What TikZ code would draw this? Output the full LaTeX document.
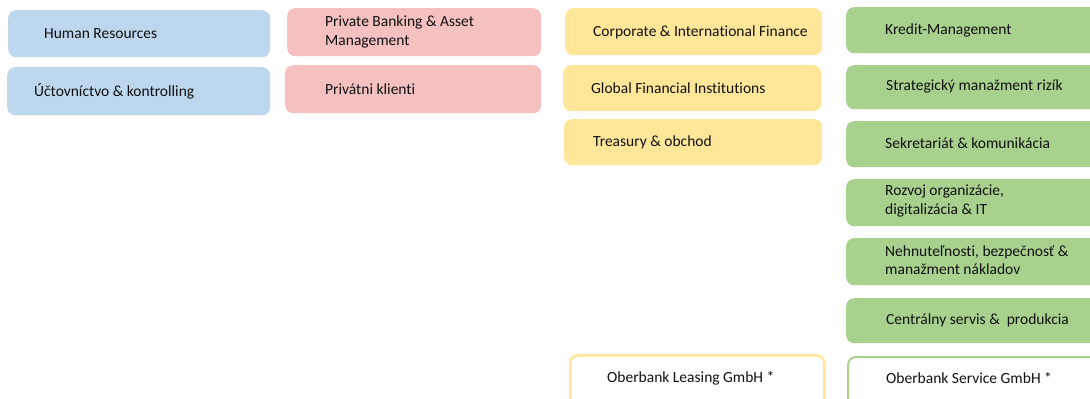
\documentclass[tikz,border=0pt]{standalone}
\usepackage{fontspec}
\setmainfont{Carlito}[Ligatures={NoCommon}]
\definecolor{cblue}{HTML}{BDD7EE}
\definecolor{cpink}{HTML}{F4C0C0}
\definecolor{cyellow}{HTML}{FFE699}
\definecolor{cgreen}{HTML}{A9D18E}
\definecolor{ctext}{HTML}{111111}
\tikzset{
  boxbase/.style={rectangle, rounded corners=8pt, anchor=north west, inner sep=0pt, draw=none},
  bluebox/.style={boxbase, fill=cblue},
  pinkbox/.style={boxbase, fill=cpink},
  yellowbox/.style={boxbase, fill=cyellow},
  greenbox/.style={boxbase, fill=cgreen},
  yellowline/.style={boxbase, fill=white, draw=cyellow, line width=2.5pt},
  greenline/.style={boxbase, fill=white, draw=cgreen, line width=2pt},
  lbl/.style={anchor=west, inner sep=0pt, align=left, text=ctext, font=\fontsize{15.5}{18.5}\selectfont}
}
\begin{document}
\begin{tikzpicture}[x=1pt,y=-1pt]
\useasboundingbox (0,0) rectangle (1090,399);
\clip (0,0) rectangle (1090,399);
\fill[white] (0,0) rectangle (1090,399);
% blue column
\node[bluebox, minimum width=262pt, minimum height=47pt] (hr) at (8,10) {};
\node[lbl] (hrt) at (44,34) {Human Resources};
\node[bluebox, minimum width=263pt, minimum height=48pt] (uc) at (7,67) {};
\node[lbl] (uct) at (34,91) {Účtovníctvo \& kontrolling};
% pink column
\node[pinkbox, minimum width=254pt, minimum height=48pt] (pb) at (287,8) {};
\node[lbl] (pbt) at (325,32) {Private Banking \& Asset\\Management};
\node[pinkbox, minimum width=256pt, minimum height=48pt] (pk) at (285,65) {};
\node[lbl] (pkt) at (325,89) {Privátni klienti};
% yellow column
\node[yellowbox, minimum width=257pt, minimum height=47pt] (ci) at (565,8) {};
\node[lbl] (cit) at (593,32) {Corporate \& International Finance};
\node[yellowbox, minimum width=258pt, minimum height=46pt] (gf) at (563,65) {};
\node[lbl] (gft) at (591,88) {Global Financial Institutions};
\node[yellowbox, minimum width=258pt, minimum height=46pt] (tr) at (564,119) {};
\node[lbl] (trt) at (593,142) {Treasury \& obchod};
\node[yellowline, minimum width=254pt, minimum height=60pt] (ol) at (569,354) {};
\node[lbl] (olt) at (607,378) {Oberbank Leasing GmbH *};
% green column
\node[greenbox, minimum width=260pt, minimum height=46pt] (km) at (846,7) {};
\node[lbl] (kmt) at (885,30) {Kredit-Management};
\node[greenbox, minimum width=260pt, minimum height=44pt] (sm) at (846,65) {};
\node[lbl] (smt) at (886,86) {Strategický manažment rizík};
\node[greenbox, minimum width=260pt, minimum height=46pt] (sk) at (846,121) {};
\node[lbl] (skt) at (885,143) {Sekretariát \& komunikácia};
\node[greenbox, minimum width=260pt, minimum height=47pt] (ro) at (846,179) {};
\node[lbl] (rot) at (885,201) {Rozvoj organizácie,\\digitalizácia \& IT};
\node[greenbox, minimum width=260pt, minimum height=47pt] (ne) at (846,238) {};
\node[lbl] (net) at (885,260) {Nehnuteľnosti, bezpečnosť \&\\manažment nákladov};
\node[greenbox, minimum width=260pt, minimum height=45pt] (ce) at (846,298) {};
\node[lbl] (cet) at (886,320) {Centrálny servis \&\ \ produkcia};
\node[greenline, minimum width=260pt, minimum height=60pt] (os) at (847,356) {};
\node[lbl] (ost) at (886,378) {Oberbank Service GmbH *};
\end{tikzpicture}
\end{document}
